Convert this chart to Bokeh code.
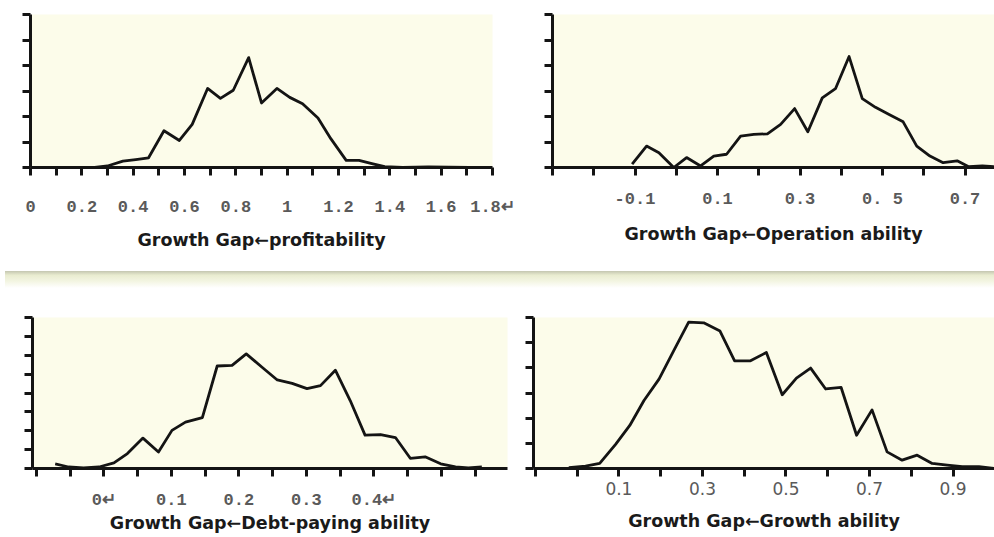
from bokeh.plotting import figure
from bokeh.models import Range1d, FixedTicker, Div
from bokeh.layouts import column, row
from bokeh.embed import file_html
from bokeh.resources import INLINE

# ---------------- data ----------------
# Panel 1: Growth Gap <- profitability
x_prof = [0.15, 0.25, 0.30, 0.36, 0.41, 0.46, 0.52, 0.58, 0.63, 0.69, 0.74, 0.79, 0.85,
          0.90, 0.96, 1.01, 1.06, 1.12, 1.17, 1.23, 1.28, 1.33, 1.38, 1.45, 1.55, 1.71]
y_prof = [0.0, 0.0, 0.06, 0.25, 0.31, 0.38, 1.44, 1.06, 1.69, 3.10, 2.71, 3.03, 4.31,
          2.53, 3.10, 2.75, 2.50, 1.94, 1.13, 0.28, 0.28, 0.15, 0.03, 0.0, 0.02, 0.0]

# Panel 2: Growth Gap <- Operation ability
x_oper = [-0.107, -0.072, -0.042, -0.006, 0.025, 0.059, 0.091, 0.122, 0.156, 0.188,
          0.221, 0.253, 0.287, 0.319, 0.354, 0.386, 0.419, 0.451, 0.483, 0.516,
          0.550, 0.583, 0.615, 0.647, 0.681, 0.709, 0.742, 0.770]
y_oper = [0.13, 0.84, 0.58, 0.0, 0.39, 0.06, 0.45, 0.52, 1.23, 1.30,
          1.32, 1.69, 2.31, 1.40, 2.73, 3.09, 4.35, 2.70, 2.36, 2.08,
          1.79, 0.84, 0.45, 0.19, 0.26, 0.03, 0.06, 0.03]

# Panel 3: Growth Gap <- Debt-paying ability
x_debt = [-0.072, -0.052, -0.030, -0.007, 0.015, 0.035, 0.058, 0.081, 0.101, 0.121,
          0.146, 0.168, 0.190, 0.211, 0.234, 0.257, 0.279, 0.301, 0.321, 0.343,
          0.365, 0.387, 0.410, 0.432, 0.454, 0.476, 0.499, 0.521, 0.540, 0.560]
y_debt = [0.25, 0.08, 0.03, 0.08, 0.30, 0.79, 1.61, 0.87, 2.02, 2.46,
          2.70, 5.43, 5.46, 6.07, 5.38, 4.69, 4.51, 4.23, 4.39, 5.21,
          3.60, 1.77, 1.80, 1.64, 0.54, 0.62, 0.25, 0.08, 0.03, 0.08]

# Panel 4: Growth Gap <- Growth ability
x_grow = [-0.020, 0.020, 0.054, 0.092, 0.126, 0.160, 0.196, 0.231, 0.267, 0.303,
          0.342, 0.377, 0.415, 0.453, 0.491, 0.525, 0.559, 0.595, 0.632, 0.669,
          0.706, 0.742, 0.778, 0.814, 0.850, 0.886, 0.922, 0.962, 0.998]
y_grow = [0.03, 0.09, 0.20, 0.96, 1.71, 2.70, 3.55, 4.67, 5.82, 5.79,
          5.46, 4.28, 4.28, 4.61, 2.93, 3.59, 3.99, 3.16, 3.22, 1.32,
          2.33, 0.66, 0.33, 0.53, 0.20, 0.13, 0.07, 0.07, 0.0]

# tick positions / labels
prof_ticks = [round(0.1 * i, 2) for i in range(0, 19)]
prof_labels = {0.0: "0", 0.2: "0.2", 0.4: "0.4", 0.6: "0.6", 0.8: "0.8", 1.0: "1",
               1.2: "1.2", 1.4: "1.4", 1.6: "1.6", 1.8: "1.8\u21b5"}

oper_ticks = [round(-0.3 + 0.1 * i, 2) for i in range(0, 11)]
oper_labels = {-0.1: "-0.1", 0.1: "0.1", 0.3: "0.3", 0.5: "0. 5", 0.7: "0.7"}

debt_ticks = [round(-0.1 + 0.05 * i, 2) for i in range(0, 14)]
debt_labels = {0.0: "0\u21b5", 0.1: "0.1", 0.2: "0.2", 0.3: "0.3", 0.4: "0.4\u21b5"}

grow_ticks = [round(-0.1 + 0.1 * i, 2) for i in range(0, 11)]
grow_labels = {0.1: "0.1", 0.3: "0.3", 0.5: "0.5", 0.7: "0.7", 0.9: "0.9"}

titles = ["Growth Gap\u2190profitability", "Growth Gap\u2190Operation ability",
          "Growth Gap\u2190Debt-paying ability", "Growth Gap\u2190Growth ability"]

CREAM = "#fcfcea"
INK = "#141414"


def panel(w, h, xr, yr, borders, xs, ys, ticks, labels, ymax, title,
          tick_font, tick_size, tick_style, label_standoff, title_standoff):
    p = figure(width=w, height=h, x_range=Range1d(*xr), y_range=Range1d(*yr),
               output_backend="svg", toolbar_location=None,
               min_border_left=borders[0], min_border_right=borders[1],
               min_border_top=borders[2], min_border_bottom=borders[3])
    p.background_fill_color = CREAM
    p.border_fill_color = "white"
    p.outline_line_color = None
    p.xgrid.visible = False
    p.ygrid.visible = False
    p.line(xs, ys, line_color=INK, line_width=2.8, line_join="round")

    xa = p.xaxis[0]
    xa.ticker = FixedTicker(ticks=ticks, minor_ticks=[])
    xa.major_label_overrides = {t: labels.get(t, "") for t in ticks}
    ya = p.yaxis[0]
    yt = list(range(0, ymax + 1))
    ya.ticker = FixedTicker(ticks=yt, minor_ticks=[])
    ya.major_label_overrides = {t: "" for t in yt}
    for ax in (xa, ya):
        ax.axis_line_width = 3
        ax.axis_line_color = INK
        ax.major_tick_line_width = 3
        ax.major_tick_line_color = INK
        ax.major_tick_in = 0
        ax.major_tick_out = 8
        ax.minor_tick_line_color = None
    ya.major_label_standoff = 0
    xa.major_label_text_font = tick_font
    xa.major_label_text_font_size = tick_size
    xa.major_label_text_color = "#5a5a5a"
    xa.major_label_text_font_style = tick_style
    xa.major_label_standoff = label_standoff
    xa.axis_label = title
    xa.axis_label_text_font = "DejaVu Sans"
    xa.axis_label_text_font_style = "bold"
    xa.axis_label_text_font_size = "17.5px"
    xa.axis_label_text_color = "#1a1a1a"
    xa.axis_label_standoff = title_standoff
    return p


# top-left: frame x 30..492, y 14..173 (page)
p1 = panel(520, 266, (0.0, 1.8), (0, 6), (30, 28, 14, 93), x_prof, y_prof,
           prof_ticks, prof_labels, 6, titles[0],
           "Liberation Mono", "17px", "bold", 22, 10)

# top-right: frame x 552..994, y 13..167
p2 = panel(474, 266, (-0.3, 0.7715), (0, 6), (32, 0, 13, 99), x_oper, y_oper,
           oper_ticks, oper_labels, 6, titles[1],
           "Liberation Mono", "17px", "bold", 14, 12)

band = Div(text="", width=994, height=17,
           styles={"background": "linear-gradient(#c4c6b0 0%, #e9ecd0 25%, #f3f5e2 60%, #ffffff 100%)"})

# bottom-left: frame x 32..507, y 303..466
p3 = panel(520, 254, (-0.1056, 0.598), (0, 8), (32, 13, 20, 71), x_debt, y_debt,
           debt_ticks, debt_labels, 8, titles[2],
           "Liberation Mono", "17px", "bold", 14, 0)

# bottom-right: frame x 533..994, y 307..458
p4 = panel(474, 254, (-0.1045, 0.9992), (0, 6), (13, 0, 24, 79), x_grow, y_grow,
           grow_ticks, grow_labels, 6, titles[3],
           "DejaVu Sans", "17px", "normal", 5, 13)

layout = column(row(p1, p2), band, row(p3, p4))
open("out.html", "w").write(file_html(layout, INLINE))
